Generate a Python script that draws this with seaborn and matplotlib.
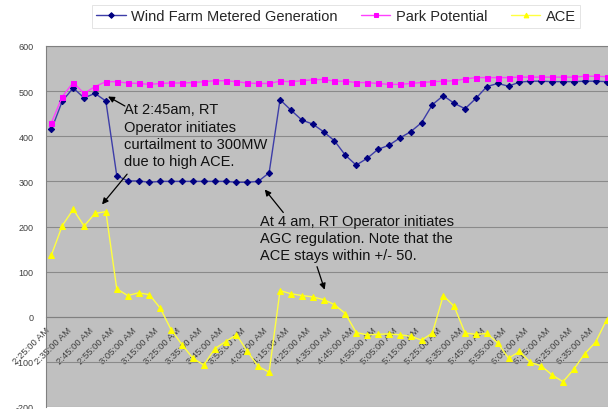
import matplotlib
matplotlib.use('Agg')
import pandas as pd
import matplotlib.pyplot as plt
import seaborn as sns

# Five-minute readings, 2:25 AM onwards
wind_gen = [415, 478, 507, 485, 495, 478, 313, 301, 301, 298, 300, 300, 300, 300,
            300, 300, 300, 298, 298, 300, 319, 481, 458, 436, 427, 410, 390, 358,
            336, 351, 371, 380, 396, 410, 430, 470, 490, 473, 461, 484, 510, 517,
            511, 520, 522, 522, 521, 521, 521, 522, 522, 521]
park_potential = [430, 488, 519, 495, 510, 521, 521, 518, 517, 515, 517, 518, 518,
                  519, 521, 523, 523, 521, 518, 517, 517, 522, 521, 523, 525, 526,
                  522, 522, 519, 519, 517, 515, 515, 517, 519, 521, 522, 523, 527,
                  530, 530, 530, 530, 531, 531, 531, 531, 531, 531, 533, 533, 532]
ace = [137, 202, 238, 201, 229, 233, 62, 47, 53, 49, 19, -29, -62, -92, -107, -71,
       -55, -40, -77, -110, -123, 58, 51, 47, 44, 38, 27, 7, -35, -40, -39, -38,
       -40, -43, -52, -36, 47, 23, -36, -39, -37, -58, -92, -77, -101, -109, -129,
       -144, -116, -82, -56, -7]
tick_labels = ['2:25:00 AM', '2:35:00 AM', '2:45:00 AM', '2:55:00 AM', '3:05:00 AM',
               '3:15:00 AM', '3:25:00 AM', '3:35:00 AM', '3:45:00 AM', '3:55:00 AM',
               '4:05:00 AM', '4:15:00 AM', '4:25:00 AM', '4:35:00 AM', '4:45:00 AM',
               '4:55:00 AM', '5:05:00 AM', '5:15:00 AM', '5:25:00 AM', '5:35:00 AM',
               '5:45:00 AM', '5:55:00 AM', '6:05:00 AM', '6:15:00 AM', '6:25:00 AM',
               '6:35:00 AM']

df = pd.DataFrame({'step': range(len(wind_gen)),
                   'Wind Farm Metered Generation': wind_gen,
                   'Park Potential': park_potential,
                   'ACE': ace})

sns.set_style('white')
plt.rcParams['font.family'] = ['Liberation Sans', 'DejaVu Sans']
plt.rcParams['axes.unicode_minus'] = False

fig = plt.figure(figsize=(6.08, 4.10), dpi=100)
# plot area runs a little past the right edge, like the cropped original
ax = fig.add_axes([46 / 608, 2 / 410, 566 / 608, 361 / 410])
ax.set_facecolor('#c0c0c0')

series = [('Wind Farm Metered Generation', '#000080', '#3d3da8', 'D', 3.2),
          ('Park Potential', '#ff00ff', '#ff40ff', 's', 3.6),
          ('ACE', '#ffff00', '#ffff40', '^', 3.8)]
for name, mcol, lcol, mk, ms in series:
    sns.lineplot(data=df, x='step', y=name, ax=ax, color=lcol, lw=1.0,
                 marker=mk, markersize=ms, markerfacecolor=mcol,
                 markeredgecolor=mcol, label=name, zorder=3)

# axis line sits at zero, as in the spreadsheet chart (set before the ticks)
ax.spines['bottom'].set_position(('data', 0))
for side in ['bottom', 'left', 'top']:
    ax.spines[side].set_color('#808080')
    ax.spines[side].set_linewidth(0.8)
ax.spines['right'].set_visible(False)

ax.set_xlim(-0.5, len(wind_gen) - 0.5)
ax.set_ylim(-200, 600)
ax.set_yticks(range(-200, 601, 100))
ax.yaxis.grid(True, color='#8a8a8a', lw=0.8)
ax.xaxis.grid(False)
ax.set_xlabel('')
ax.set_ylabel('')

ax.set_xticks(range(0, len(wind_gen), 2))
ax.set_xticklabels(tick_labels, rotation=45, ha='right')
ax.tick_params(axis='x', labelsize=6.8, labelcolor='#404040', length=2,
               color='#808080', pad=4)
ax.tick_params(axis='y', labelsize=6.5, labelcolor='#404040', length=3,
               color='#808080', pad=6)

# Notes
ax.text(6.65, 475, 'At 2:45am, RT\nOperator initiates\ncurtailment to 300MW\ndue to high ACE.',
        fontsize=10.5, va='top', ha='left', linespacing=1.3, color='#111111')
ax.text(19.15, 227, 'At 4 am, RT Operator initiates\nAGC regulation. Note that the\nACE stays within +/- 50.',
        fontsize=10.5, va='top', ha='left', linespacing=1.25, color='#111111')
arrow = dict(arrowstyle='-|>', color='black', lw=0.9, mutation_scale=9,
             shrinkA=0, shrinkB=0)
ax.annotate('', xy=(5.2, 488), xytext=(6.75, 467), arrowprops=arrow)
ax.annotate('', xy=(4.65, 249), xytext=(6.95, 316), arrowprops=arrow)
ax.annotate('', xy=(19.6, 282), xytext=(21.3, 231), arrowprops=arrow)
ax.annotate('', xy=(25.1, 60), xytext=(24.4, 111), arrowprops=arrow)

handles, labels = ax.get_legend_handles_labels()
ax.get_legend().remove()
leg = fig.legend(handles, labels, loc='center', bbox_to_anchor=(0.553, 0.958),
                 ncol=3, fontsize=10.5, frameon=True, fancybox=False,
                 handlelength=2.0, handletextpad=0.4, columnspacing=1.6,
                 borderpad=0.3, markerscale=0.9)
leg.get_frame().set_edgecolor('#d8d8d8')
leg.get_frame().set_linewidth(0.6)

fig.savefig('out.png', dpi=100)
